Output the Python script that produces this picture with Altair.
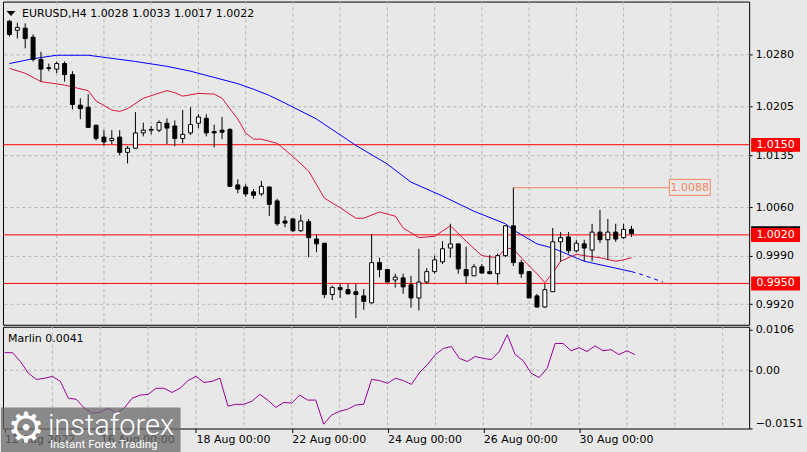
import altair as alt
import pandas as pd

BG = "#e8e8e8"
FONT = "DejaVu Sans"
GRID = "#b4b4b4"

# ---------------- data (H4 bars, index 0 = 12 Aug 2022 00:00) ----------------
bar_index = list(range(80))
opens = [1.0328, 1.0315, 1.0318, 1.0305, 1.0273, 1.0261, 1.0259, 1.0267, 1.0251, 1.0207,
         1.0204, 1.0178, 1.0161, 1.0156, 1.0161, 1.0139, 1.0145, 1.0167, 1.0172, 1.0171,
         1.0181, 1.0177, 1.0159, 1.0167, 1.0181, 1.0188, 1.0169, 1.0171, 1.0172, 1.0092,
         1.0089, 1.0082, 1.0079, 1.0089, 1.0069, 1.0040, 1.0043, 1.0026, 1.0039, 1.0014,
         1.0008, 0.9934, 0.9944, 0.9941, 0.9938, 0.9932, 0.9922, 0.9980, 0.9970, 0.9955,
         0.9958, 0.9948, 0.9929, 0.9952, 0.9967, 0.9981, 1.0001, 1.0007, 0.9970, 0.9961,
         0.9974, 0.9967, 0.9964, 0.9990, 1.0033, 0.9980, 0.9967, 0.9932, 0.9916, 0.9938,
         1.0010, 1.0017, 0.9997, 1.0007, 0.9998, 1.0024, 1.0013, 1.0024, 1.0016, 1.0028]
highs = [1.0330, 1.0326, 1.0325, 1.0309, 1.0284, 1.0267, 1.0270, 1.0270, 1.0256, 1.0217,
         1.0223, 1.0179, 1.0171, 1.0171, 1.0171, 1.0148, 1.0197, 1.0182, 1.0177, 1.0185,
         1.0188, 1.0185, 1.0200, 1.0204, 1.0194, 1.0194, 1.0179, 1.0190, 1.0174, 1.0100,
         1.0093, 1.0086, 1.0098, 1.0090, 1.0072, 1.0047, 1.0043, 1.0049, 1.0043, 1.0021,
         1.0008, 0.9947, 0.9949, 0.9949, 0.9949, 0.9942, 1.0021, 0.9987, 0.9971, 0.9964,
         0.9964, 0.9961, 1.0000, 0.9972, 0.9990, 1.0011, 1.0036, 1.0007, 1.0003, 0.9978,
         0.9978, 0.9991, 0.9993, 1.0034, 1.0088, 0.9984, 0.9967, 0.9935, 0.9949, 1.0030,
         1.0024, 1.0024, 1.0013, 1.0013, 1.0036, 1.0056, 1.0043, 1.0036, 1.0036, 1.0033]
lows = [1.0306, 1.0303, 1.0289, 1.0270, 1.0241, 1.0256, 1.0253, 1.0241, 1.0201, 1.0187,
        1.0174, 1.0156, 1.0149, 1.0151, 1.0135, 1.0123, 1.0145, 1.0162, 1.0165, 1.0168,
        1.0151, 1.0148, 1.0152, 1.0164, 1.0174, 1.0162, 1.0146, 1.0158, 1.0089, 1.0080,
        1.0075, 1.0072, 1.0076, 1.0047, 1.0033, 1.0031, 1.0024, 1.0024, 0.9988, 0.9995,
        0.9929, 0.9926, 0.9929, 0.9934, 0.9900, 0.9912, 0.9921, 0.9959, 0.9952, 0.9944,
        0.9935, 0.9915, 0.9911, 0.9949, 0.9964, 0.9978, 0.9987, 0.9964, 0.9949, 0.9961,
        0.9964, 0.9964, 0.9948, 0.9988, 0.9975, 0.9958, 0.9929, 0.9915, 0.9915, 0.9938,
        0.9981, 0.9993, 0.9995, 0.9982, 0.9982, 1.0008, 0.9984, 1.0010, 1.0014, 1.0017]
closes = [1.0309, 1.0319, 1.0303, 1.0273, 1.0259, 1.0260, 1.0267, 1.0251, 1.0208, 1.0202,
          1.0175, 1.0159, 1.0154, 1.0159, 1.0139, 1.0145, 1.0167, 1.0171, 1.0171, 1.0182,
          1.0174, 1.0159, 1.0165, 1.0179, 1.0190, 1.0167, 1.0167, 1.0168, 1.0090, 1.0086,
          1.0079, 1.0077, 1.0090, 1.0064, 1.0036, 1.0037, 1.0026, 1.0040, 1.0016, 1.0007,
          0.9934, 0.9944, 0.9941, 0.9935, 0.9934, 0.9924, 0.9980, 0.9970, 0.9952, 0.9959,
          0.9945, 0.9929, 0.9952, 0.9967, 0.9984, 1.0000, 1.0007, 0.9971, 0.9961, 0.9974,
          0.9965, 0.9964, 0.9990, 1.0033, 0.9980, 0.9964, 0.9929, 0.9916, 0.9941, 1.0010,
          1.0016, 0.9997, 1.0008, 1.0001, 1.0024, 1.0013, 1.0024, 1.0014, 1.0028, 1.0022]

red_ma_idx = [0, 2, 4, 7, 10, 11, 13, 14, 15, 17, 20, 21, 22, 24, 26, 27, 29, 30, 31, 32,
              34, 36, 38, 40, 42, 44, 45, 47, 49, 50, 52, 54, 56, 58, 60, 62, 63, 64, 65,
              67, 68, 69, 70, 72, 73, 75, 77, 78, 79]
red_ma_val = [1.0260, 1.0253, 1.0241, 1.0236, 1.0228, 1.0213, 1.0200, 1.0198, 1.0202, 1.0217,
              1.0228, 1.0225, 1.0220, 1.0224, 1.0223, 1.0217, 1.0187, 1.0167, 1.0158, 1.0158,
              1.0152, 1.0133, 1.0112, 1.0073, 1.0059, 1.0044, 1.0044, 1.0053, 1.0047, 1.0030,
              1.0016, 1.0018, 1.0033, 1.0011, 0.9990, 0.9987, 1.0001, 1.0000, 0.9987,
              0.9964, 0.9951, 0.9965, 0.9982, 0.9992, 0.9990, 0.9987, 0.9982, 0.9984, 0.9987]

blue_ma_idx = [0, 3, 6, 10, 12, 16, 20, 23, 26, 29, 31, 33, 35, 39, 44, 48, 51, 55, 59, 63,
               64, 67, 69, 73, 75, 77, 79]
blue_ma_val = [1.0267, 1.0274, 1.0279, 1.0279, 1.0276, 1.0270, 1.0263, 1.0256, 1.0247, 1.0238,
               1.0230, 1.0221, 1.0210, 1.0187, 1.0149, 1.0122, 1.0096, 1.0076, 1.0054, 1.0036,
               1.0027, 1.0007, 1.0001, 0.9982, 0.9977, 0.9972, 0.9967]
blue_proj_idx = [79, 80, 83]
blue_proj_val = [0.9967, 0.9964, 0.9952]

marlin = [0.0046, 0.0046, 0.0023, -0.0008, -0.0024, -0.0021, -0.0016, -0.0029, -0.0073, -0.0076,
          -0.0099, -0.0112, -0.0110, -0.0099, -0.0112, -0.0099, -0.0073, -0.0065, -0.0063, -0.0047,
          -0.0047, -0.0058, -0.0047, -0.0027, -0.0016, -0.0032, -0.0029, -0.0021, -0.0094, -0.0089,
          -0.0089, -0.0081, -0.0063, -0.0078, -0.0097, -0.0084, -0.0086, -0.0065, -0.0078, -0.0078,
          -0.0141, -0.0117, -0.0107, -0.0102, -0.0091, -0.0089, -0.0024, -0.0027, -0.0034, -0.0021,
          -0.0027, -0.0037, -0.0006, 0.0015, 0.0041, 0.0057, 0.0062, 0.0031, 0.0023, 0.0036,
          0.0031, 0.0028, 0.0049, 0.0093, 0.0041, 0.0025, -0.0008, -0.0019, 0.0005, 0.0070,
          0.0070, 0.0051, 0.0059, 0.0049, 0.0064, 0.0051, 0.0054, 0.0041, 0.0051, 0.0041]

level_prices = [1.0150, 1.0020, 0.9950]
last_price = 1.0022
marker_price = 1.0088
marker_bar = 64

price_ticks = [0.9920, 0.9990, 1.0060, 1.0135, 1.0205, 1.0280]
marlin_ticks = [-0.0151, 0.0, 0.0106]
date_tick_idx = [0, 12, 24, 36, 48, 60, 72]
date_tick_labels = ["12 Aug 2022", "16 Aug 00:00", "18 Aug 00:00", "22 Aug 00:00",
                    "24 Aug 00:00", "26 Aug 00:00", "30 Aug 00:00"]
grid_idx = list(range(6, 93, 6))

title_text = "EURUSD,H4  1.0028 1.0033 1.0017 1.0022"
marlin_text = "Marlin 0.0041"

# ---------------- scales ----------------
W, H1, H2 = 748, 324, 102
xs = alt.Scale(domain=[-0.1875, 93.3125], nice=False, zero=False)
ys = alt.Scale(domain=[0.98904, 1.03564], nice=False, zero=False)
ms = alt.Scale(domain=[-0.01523, 0.01138], nice=False, zero=False)

y_axis = alt.Axis(orient="right", values=price_ticks, format=".4f", title=None, grid=True,
                  gridColor=GRID, gridDash=[3, 3], tickSize=3, tickColor="black",
                  labelPadding=3, domain=False, zindex=0, labelFont=FONT, labelFontSize=11,
                  labelColor="black")
m_axis = alt.Axis(orient="right", values=marlin_ticks, title=None, grid=False,
                  labelExpr="datum.value == 0 ? '0.00' : format(datum.value, '.4f')",
                  labelFlush=True, tickSize=3, tickColor="black", labelPadding=3,
                  domain=False, zindex=0, labelFont=FONT, labelFontSize=11, labelColor="black")
lab_arr = "[" + ",".join("'" + t + "'" for t in date_tick_labels) + "]"
idx_arr = "[" + ",".join(str(v) for v in date_tick_idx) + "]"
x_axis = alt.Axis(values=date_tick_idx, title=None, grid=False, domain=False,
                  labelExpr=f"{lab_arr}[indexof({idx_arr}, datum.value)]",
                  labelAlign="left", labelBaseline="top", labelOverlap=False, labelFlush=False,
                  tickSize=4, tickColor="black", labelPadding=1, zindex=0,
                  labelFont=FONT, labelFontSize=11, labelColor="black")


def X(f):
    return alt.X(f"{f}:Q", scale=xs, axis=None)


def Y(f):
    return alt.Y(f"{f}:Q", scale=ys, axis=y_axis)


one = pd.DataFrame({"a": [0]})

# ---------------- main panel ----------------
filler = alt.Chart(one).mark_rect(fillOpacity=0, strokeOpacity=0).encode(
    x=alt.value(-2), x2=alt.value(805), y=alt.value(0), y2=alt.value(452))

gdf = pd.DataFrame({"g": grid_idx})
vgrid = alt.Chart(gdf).mark_rule(color=GRID, strokeDash=[3, 3], strokeWidth=1).encode(x=X("g"))

ldf = pd.DataFrame({"p": level_prices, "t": [f"{p:.4f}" for p in level_prices]})
levels = alt.Chart(ldf).mark_rule(color="#ff0000", strokeWidth=1).encode(y=Y("p"))

cur_box = alt.Chart(pd.DataFrame({"p": [last_price]})).transform_calculate(
    top="datum.p + 0.00105", bot="datum.p - 0.00095").mark_rect(fill="black").encode(
    x=alt.value(750), x2=alt.value(799), y=Y("top"), y2=alt.Y2("bot"))

lvl_box = alt.Chart(ldf).transform_calculate(
    top="datum.p + 0.00098", bot="datum.p - 0.00103").mark_rect(fill="#ff0000").encode(
    x=alt.value(750), x2=alt.value(799), y=Y("top"), y2=alt.Y2("bot"))
lvl_txt = alt.Chart(ldf).mark_text(color="white", font=FONT, fontSize=11, align="center",
                                   baseline="middle", dy=0).encode(
    x=alt.value(774.5), y=Y("p"), text="t:N")

bdf = pd.DataFrame({"i": blue_ma_idx, "v": blue_ma_val})
blue = alt.Chart(bdf).mark_line(color="#0000ff", strokeWidth=1).encode(x=X("i"), y=Y("v"))
bpdf = pd.DataFrame({"i": blue_proj_idx, "v": blue_proj_val})
blue_proj = alt.Chart(bpdf).mark_line(color="#0000ff", strokeWidth=1, strokeDash=[4, 4]).encode(
    x=X("i"), y=Y("v"))
rdf = pd.DataFrame({"i": red_ma_idx, "v": red_ma_val})
red = alt.Chart(rdf).mark_line(color="#dc143c", strokeWidth=1).encode(x=X("i"), y=Y("v"))

MK = "#f4845f"
mdf = pd.DataFrame({"i": [marker_bar], "p": [marker_price], "t": [f"{marker_price:.4f}"]})
mk_line = alt.Chart(mdf).mark_rule(color=MK, strokeWidth=1).encode(
    x=X("i"), x2=alt.value(668), y=Y("p"))
mk_box = alt.Chart(mdf).transform_calculate(
    top="datum.p + 0.0012", bot="datum.p - 0.0011").mark_rect(
    fill=BG, stroke=MK, strokeWidth=1).encode(
    x=alt.value(668), x2=alt.value(709), y=Y("top"), y2=alt.Y2("bot"))
mk_txt = alt.Chart(mdf).mark_text(color=MK, font=FONT, fontSize=11, align="center",
                                  baseline="middle").encode(
    x=alt.value(688.5), y=Y("p"), text="t:N")

cdf = pd.DataFrame({"i": bar_index, "o": opens, "h": highs, "l": lows, "c": closes})
wicks = alt.Chart(cdf).mark_rule(color="black", strokeWidth=1).encode(
    x=X("i"), y=Y("l"), y2=alt.Y2("h"))
bodies = alt.Chart(cdf).mark_bar(size=4, stroke="black", strokeWidth=1).encode(
    x=X("i"), y=Y("o"), y2=alt.Y2("c"),
    fill=alt.condition("datum.c >= datum.o", alt.value("white"), alt.value("black")))

title = alt.Chart(pd.DataFrame({"t": [title_text]})).mark_text(
    align="left", baseline="middle", font=FONT, fontSize=11, color="black").encode(
    x=alt.value(19), y=alt.value(12), text="t:N")
tri = alt.Chart(one).mark_point(shape="M-1,-0.55L1,-0.55L0,0.55Z", filled=True, color="black",
                                size=81, opacity=1).encode(x=alt.value(8), y=alt.value(12))

main = alt.layer(filler, vgrid, levels, blue, blue_proj, red, mk_line, mk_box, mk_txt,
                 wicks, bodies, cur_box, lvl_box, lvl_txt, title, tri).properties(
    width=W, height=H1)

# ---------------- indicator panel ----------------
def MY(f):
    return alt.Y(f"{f}:Q", scale=ms, axis=m_axis)


vgrid2 = alt.Chart(gdf).mark_rule(color=GRID, strokeDash=[3, 3], strokeWidth=1).encode(
    x=alt.X("g:Q", scale=xs, axis=x_axis))
zero = alt.Chart(pd.DataFrame({"z": [0.0]})).mark_rule(
    color=GRID, strokeDash=[3, 3], strokeWidth=1).encode(y=MY("z"))
mdf2 = pd.DataFrame({"i": bar_index, "m": marlin})
mline = alt.Chart(mdf2).mark_line(color="#990099", strokeWidth=1).encode(
    x=alt.X("i:Q", scale=xs, axis=x_axis), y=MY("m"))
mtxt = alt.Chart(pd.DataFrame({"t": [marlin_text]})).mark_text(
    align="left", baseline="middle", font=FONT, fontSize=11, color="black").encode(
    x=alt.value(5), y=alt.value(12), text="t:N")

wm_box = alt.Chart(one).mark_rect(fill="#6a6a6a", opacity=0.75).encode(
    x=alt.value(-2), x2=alt.value(178), y=alt.value(81), y2=alt.value(126))
wm_gear = alt.Chart(pd.DataFrame({"t": ["\u2699"]})).mark_text(
    align="center", baseline="middle", font=FONT, fontSize=42, color="white").encode(
    x=alt.value(23), y=alt.value(103), text="t:N")
wm_name = alt.Chart(pd.DataFrame({"t": ["instaforex"]})).mark_text(
    align="left", baseline="alphabetic", font="Roboto", fontSize=29, fontWeight=300,
    color="white").encode(x=alt.value(45), y=alt.value(109), text="t:N")
wm_tag = alt.Chart(pd.DataFrame({"t": ["Instant Forex Trading"]})).mark_text(
    align="left", baseline="alphabetic", font="Roboto", fontSize=11.5, color="white").encode(
    x=alt.value(47), y=alt.value(122), text="t:N")

ind = alt.layer(vgrid2, zero, mline, mtxt, wm_box, wm_gear, wm_name, wm_tag).properties(
    width=W, height=H2)

chart = alt.vconcat(main, ind, spacing=2, bounds="flush").properties(
    padding=0, background=BG
).configure_view(stroke="black", strokeWidth=1, fill=BG)

chart.save("out.html", embed_options={"renderer": "svg", "actions": False})
